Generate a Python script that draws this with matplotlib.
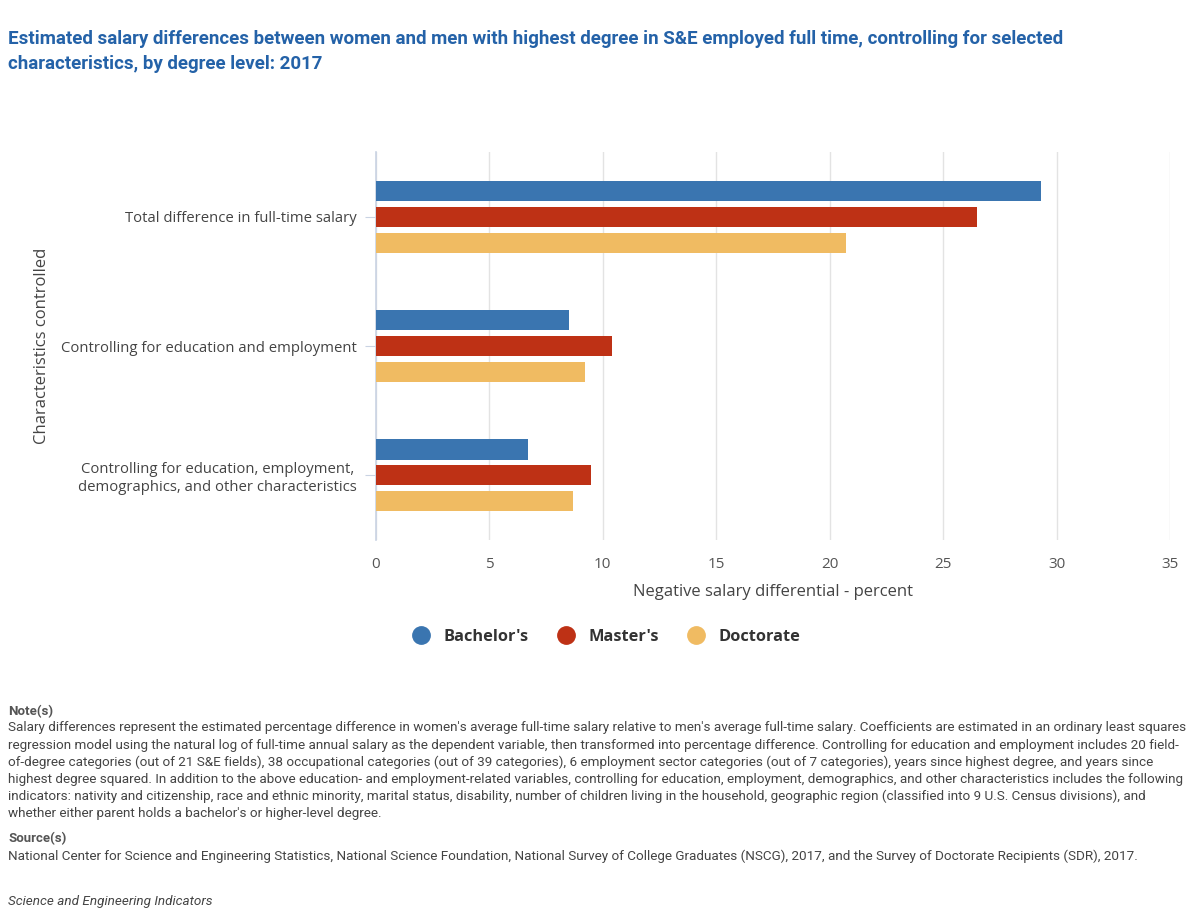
import numpy as np
import matplotlib.pyplot as plt
from matplotlib.lines import Line2D

categories = ["Total difference in full-time salary",
              "Controlling for education and employment",
              "Controlling for education, employment,\ndemographics, and other characteristics"]
series_names = ["Bachelor's", "Master's", "Doctorate"]
bachelors = [29.3, 8.5, 6.7]
masters = [26.5, 10.4, 9.5]
doctorate = [20.7, 9.2, 8.7]
colors = ["#3a75b0", "#be3115", "#f0bb62"]
xticks = [0, 5, 10, 15, 20, 25, 30, 35]

title = ("Estimated salary differences between women and men with highest degree in S&E employed full time, controlling for selected\n"
         "characteristics, by degree level: 2017")
note_lines = [
    "Salary differences represent the estimated percentage difference in women's average full-time salary relative to men's average full-time salary. Coefficients are estimated in an ordinary least squares",
    "regression model using the natural log of full-time annual salary as the dependent variable, then transformed into percentage difference. Controlling for education and employment includes 20 field-",
    "of-degree categories (out of 21 S&E fields), 38 occupational categories (out of 39 categories), 6 employment sector categories (out of 7 categories), years since highest degree, and years since",
    "highest degree squared. In addition to the above education- and employment-related variables, controlling for education, employment, demographics, and other characteristics includes the following",
    "indicators: nativity and citizenship, race and ethnic minority, marital status, disability, number of children living in the household, geographic region (classified into 9 U.S. Census divisions), and",
    "whether either parent holds a bachelor's or higher-level degree.",
]
source_text = ("National Center for Science and Engineering Statistics, National Science Foundation, National Survey of College Graduates (NSCG), 2017, "
               "and the Survey of Doctorate Recipients (SDR), 2017.")

fig = plt.figure(figsize=(12, 9.22), dpi=100)
ax = fig.add_axes([0.3133, 0.4143, 0.6617, 0.4207])

y = np.arange(len(categories))
offset = 0.2
h = 0.155
for i, (vals, name) in enumerate(zip([bachelors, masters, doctorate], series_names)):
    ax.barh(y + (i - 1) * offset, vals, height=h, color=colors[i], label=name, zorder=3)

ax.set_xlim(0, 35)
ax.set_ylim(2.5, -0.5)
ax.set_xticks(xticks)
ax.set_yticks(y)
ax.set_yticklabels(categories, family="Open Sans", fontsize=10.7, color="#444444",
                   multialignment="center")
ax.tick_params(axis="x", length=0, labelsize=11, labelcolor="#555555", pad=12)
ax.tick_params(axis="y", length=8, color="#c9d3e3", pad=6)
for lab in ax.get_xticklabels():
    lab.set_family("Open Sans")
ax.grid(axis="x", color="#e3e3e3", linewidth=1, zorder=0)
for s in ["top", "right", "bottom"]:
    ax.spines[s].set_visible(False)
ax.spines["left"].set_color("#c9d3e3")
ax.spines["left"].set_linewidth(1.2)
ax.set_xlabel("Negative salary differential - percent", family="Open Sans", fontsize=12,
              color="#444444", labelpad=9)
ax.set_ylabel("Characteristics controlled", family="Open Sans", fontsize=12, color="#444444",
              labelpad=8)

handles = [Line2D([], [], marker="o", linestyle="none", markersize=12.5, color=c) for c in colors]
fig.legend(handles, series_names, loc="center", bbox_to_anchor=(0.502, 0.309), ncol=3,
           frameon=False, prop={"family": "Open Sans", "weight": "bold", "size": 11.8},
           labelcolor="#333333", handletextpad=0.35, columnspacing=1.3)

fig.text(0.007, 0.968, title, family="Roboto", weight="bold", fontsize=13.5, color="#2462a8",
         va="top", linespacing=1.5)

fig.text(0.007, 0.228, "Note(s)", family="Roboto", weight="bold", fontsize=9.5, color="#555555", va="center")
for k, line in enumerate(note_lines):
    fig.text(0.007, 0.2105 - k * 0.01865, line, family="Roboto", fontsize=9.7, color="#444444",
             va="center")
fig.text(0.007, 0.091, "Source(s)", family="Roboto", weight="bold", fontsize=9.5, color="#555555", va="center")
fig.text(0.007, 0.071, source_text, family="Roboto", fontsize=9.7, color="#444444", va="center")
fig.text(0.007, 0.022, "Science and Engineering Indicators", family="Roboto", style="italic",
         fontsize=9.7, color="#444444", va="center")

fig.savefig("out.png", dpi=100, facecolor="white")
